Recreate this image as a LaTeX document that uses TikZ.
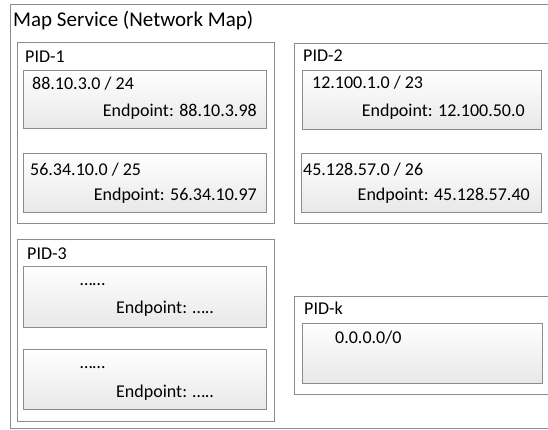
\documentclass[tikz,border=0pt]{standalone}
\usepackage{fontspec}
\setmainfont{Carlito}
\usetikzlibrary{shadows}
\tikzset{
  panel/.style={draw=black!45, line width=0.9pt, fill=white, anchor=north west,
    inner sep=0pt, outer sep=0pt,
    drop shadow={shadow xshift=1pt, shadow yshift=-1pt, opacity=0.35}},
  subnet/.style={draw=black!45, line width=0.9pt, top color=white, bottom color=black!9,
    anchor=north west, inner sep=0pt, outer sep=0pt,
    drop shadow={shadow xshift=1pt, shadow yshift=-1pt, opacity=0.35}},
  lbl/.style={anchor=base west, inner sep=0pt, font=\fontsize{18}{21}\selectfont},
  rlbl/.style={anchor=base east, inner sep=0pt, font=\fontsize{18}{21}\selectfont},
  heading/.style={anchor=base west, inner sep=0pt, font=\fontsize{21}{25}\selectfont}
}
\begin{document}
\begin{tikzpicture}[x=1pt, y=-1pt]
  \useasboundingbox (0,0) rectangle (548,430);
  \clip (0,0) rectangle (548,430);

  % outer map service frame
  \node[panel, minimum width=560pt, minimum height=424pt] (map) at (10,4) {};
  \node[heading] (maptitle) at (13,27) {Map Service (Network Map)};

  % PID-1
  \node[panel, minimum width=257pt, minimum height=181pt] (pid1) at (17,42) {};
  \node[lbl] (pid1lbl) at (25,63) {PID-1};
  \node[subnet, minimum width=243pt, minimum height=58pt] (s1a) at (23,70) {};
  \node[lbl] (s1aprefix) at (32,90) {88.10.3.0 / 24};
  \node[rlbl] (s1aep) at (257,117) {Endpoint: 88.10.3.98};
  \node[subnet, minimum width=243pt, minimum height=59pt] (s1b) at (23,153) {};
  \node[lbl] (s1bprefix) at (30,176) {56.34.10.0 / 25};
  \node[rlbl] (s1bep) at (257,201) {Endpoint: 56.34.10.97};

  % PID-2
  \node[panel, minimum width=270pt, minimum height=180pt] (pid2) at (294,43) {};
  \node[lbl] (pid2lbl) at (303,62) {PID-2};
  \node[subnet, minimum width=239pt, minimum height=59pt] (s2a) at (302,70) {};
  \node[lbl] (s2aprefix) at (312,89) {12.100.1.0 / 23};
  \node[rlbl] (s2aep) at (525,117) {Endpoint: 12.100.50.0};
  \node[subnet, minimum width=240pt, minimum height=59pt] (s2b) at (301,153) {};
  \node[lbl] (s2bprefix) at (303,176) {45.128.57.0 / 26};
  \node[rlbl] (s2bep) at (530,201) {Endpoint: 45.128.57.40};

  % PID-3
  \node[panel, minimum width=257pt, minimum height=182pt] (pid3) at (17,239) {};
  \node[lbl] (pid3lbl) at (27,259) {PID-3};
  \node[subnet, minimum width=243pt, minimum height=61pt] (s3a) at (23,266) {};
  \node[lbl] (s3aprefix) at (80,285) {……};
  \node[lbl] (s3aep) at (116,313) {Endpoint: …..};
  \node[subnet, minimum width=243pt, minimum height=60pt] (s3b) at (23,349) {};
  \node[lbl] (s3bprefix) at (80,368) {……};
  \node[lbl] (s3bep) at (116,397) {Endpoint: …..};

  % PID-k
  \node[panel, minimum width=270pt, minimum height=98pt] (pidk) at (294,296) {};
  \node[lbl] (pidklbl) at (304,314) {PID-k};
  \node[subnet, minimum width=240pt, minimum height=60pt] (sk) at (302,323) {};
  \node[lbl] (skprefix) at (335,343) {0.0.0.0/0};
\end{tikzpicture}
\end{document}
